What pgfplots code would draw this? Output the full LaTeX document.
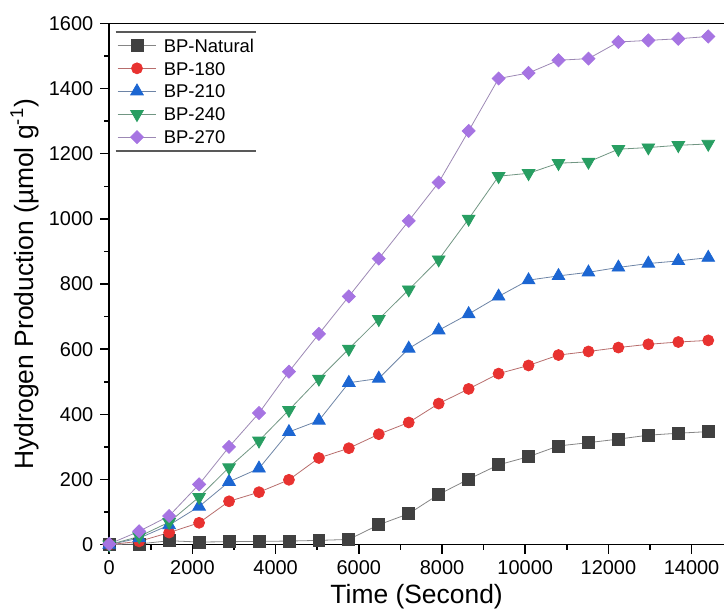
\documentclass[border=0pt]{standalone}
\usepackage{fontspec}
\setmainfont{Liberation Sans}
\usepackage{pgfplots}
\pgfplotsset{compat=1.18}

\definecolor{cNat}{RGB}{64,64,64}
\definecolor{c180}{RGB}{232,50,48}
\definecolor{c210}{RGB}{28,102,210}
\definecolor{c240}{RGB}{40,158,98}
\definecolor{c270}{RGB}{166,116,226}

\begin{document}
\begin{tikzpicture}
\begin{axis}[
  scale only axis,
  width=308.25pt, height=261.3pt,
  xmin=0, xmax=14780,
  ymin=0, ymax=1600,
  axis x line=box, axis y line=left,
  axis line style={line width=0.75pt, -},
  xtick={0,2000,...,14000}, ytick={0,200,...,1600},
  minor x tick num=1, minor y tick num=1,
  xtick pos=bottom, ytick pos=left,
  tick align=outside,
  major tick length=4.5pt, minor tick length=2.5pt,
  tick style={line width=0.75pt, black},
  scaled x ticks=false,
  /pgf/number format/assume math mode=true,
  /pgf/number format/1000 sep={},
  ticklabel style={font=\fontsize{10}{12}\selectfont},
  xlabel={Time (Second)},
  ylabel={Hydrogen Production (µmol g\textsuperscript{-1})},
  label style={font=\fontsize{13.25}{15}\selectfont},
  xlabel style={yshift=2pt},
  ylabel style={yshift=-2pt},
  legend style={at={(0.0122,0.9754)}, anchor=north west, draw=none, fill=none,
    inner sep=0pt, row sep=2.75pt, font=\fontsize{9.25}{10}\selectfont,
    nodes={inner sep=1pt, text height=6.75pt, text depth=0pt},
    /tikz/every odd column/.append style={column sep=2.5pt}},
  legend cell align=left,
  legend image code/.code={\draw[mark repeat=2, mark phase=2] plot coordinates {(0pt,0pt) (9.75pt,0pt) (19.5pt,0pt)};},
  clip=false,
]
\addplot[draw=cNat!40!gray!80, line width=0.4pt, mark=square*, mark size=3pt, mark options={fill=cNat, draw=cNat, solid}] coordinates {
(0,0) (720,2) (1440,12) (2160,8) (2880,9) (3600,10) (4320,11) (5040,13) (5760,16) (6480,61) (7200,95) (7920,154) (8640,201) (9360,245) (10080,270) (10800,303) (11520,313) (12240,324) (12960,336) (13680,342) (14400,347)};
\addlegendentry{BP-Natural}
\addplot[draw=c180!45!gray!90, line width=0.4pt, mark=*, mark size=2.75pt, mark options={fill=c180, draw=c180, solid}] coordinates {
(0,0) (720,10) (1440,37) (2160,67) (2880,133) (3600,161) (4320,199) (5040,266) (5760,296) (6480,339) (7200,375) (7920,433) (8640,478) (9360,525) (10080,550) (10800,582) (11520,593) (12240,605) (12960,615) (13680,622) (14400,627)};
\addlegendentry{BP-180}
\addplot[draw=c210!35!gray!90, line width=0.4pt, mark=triangle*, mark size=3.65pt, mark options={fill=c210, draw=c210, solid}] coordinates {
(0,0) (720,20) (1440,60) (2160,117) (2880,193) (3600,234) (4320,346) (5040,381) (5760,497) (6480,510) (7200,602) (7920,658) (8640,708) (9360,762) (10080,812) (10800,825) (11520,836) (12240,851) (12960,863) (13680,871) (14400,881)};
\addlegendentry{BP-210}
\addplot[draw=c240!35!gray!90, line width=0.4pt, mark=triangle*, mark size=3.65pt, mark options={fill=c240, draw=c240, solid, rotate=180}] coordinates {
(0,0) (720,25) (1440,69) (2160,146) (2880,237) (3600,319) (4320,413) (5040,509) (5760,601) (6480,692) (7200,783) (7920,875) (8640,1000) (9360,1131) (10080,1140) (10800,1171) (11520,1175) (12240,1214) (12960,1219) (13680,1226) (14400,1230)};
\addlegendentry{BP-240}
\addplot[draw=c270!45!gray!90, line width=0.4pt, mark=square*, mark size=2.3pt, mark options={fill=c270, draw=c270, solid, rotate=45}] coordinates {
(0,2) (720,41) (1440,88) (2160,185) (2880,300) (3600,404) (4320,531) (5040,647) (5760,762) (6480,878) (7200,994) (7920,1112) (8640,1270) (9360,1431) (10080,1448) (10800,1487) (11520,1492) (12240,1543) (12960,1548) (13680,1553) (14400,1560)};
\addlegendentry{BP-270}
\draw[black!65, line width=0.8pt] (rel axis cs:0.0105,0.9835) -- (rel axis cs:0.2393,0.9835);
\draw[black!65, line width=0.8pt] (rel axis cs:0.0105,0.7558) -- (rel axis cs:0.2393,0.7558);
\path (axis cs:-2626,-202) rectangle (axis cs:14784,1672);
\end{axis}
\end{tikzpicture}
\end{document}
